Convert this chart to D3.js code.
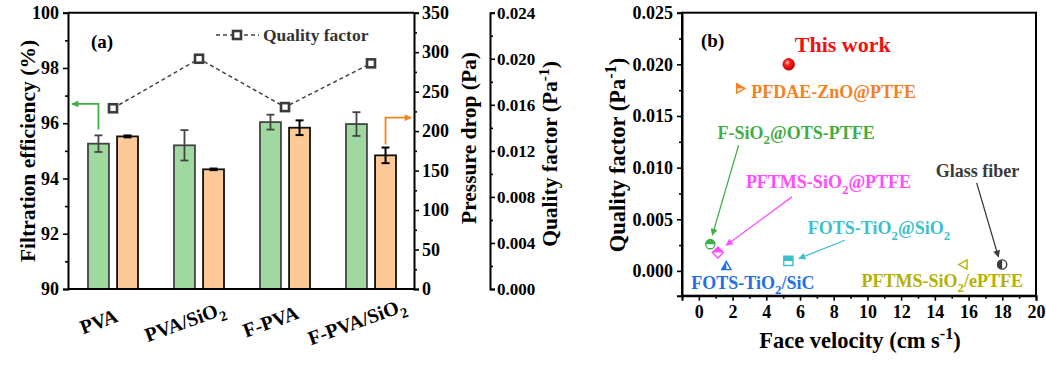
<!DOCTYPE html>
<html><head><meta charset="utf-8">
<script src="https://cdn.jsdelivr.net/npm/d3@7"></script>
<style>
body{margin:0;background:#fff}
svg{display:block}
text{font-family:"Liberation Serif","Times New Roman",serif;font-weight:bold}
</style></head>
<body><svg id="c" width="1046" height="366"></svg>
<script>
// ---------- Panel (a) data ----------
const categories = ["PVA", "PVA/SiO_{2}", "F-PVA", "F-PVA/SiO_{2}"];
const efficiency = [95.26, 95.20, 96.04, 95.97];
const efficiencyErr = [0.30, 0.55, 0.27, 0.43];
const pressureDrop = [193.3, 151.6, 204.3, 169.3];
const pressureErr = [1.2, 1.0, 9.3, 9.9];
const qualityFactor = [0.0157, 0.0200, 0.0158, 0.0196];
const effTicks = [90, 92, 94, 96, 98, 100];
const effMinor = [91, 93, 95, 97, 99];
const dpTicks = [0, 50, 100, 150, 200, 250, 300, 350];
const dpMinor = [25, 75, 125, 175, 225, 275, 325];
const qfTicks = [0, 0.004, 0.008, 0.012, 0.016, 0.020, 0.024];
const qfMinor = [0.002, 0.006, 0.010, 0.014, 0.018, 0.022];

// ---------- Panel (b) data ----------
const refLabels = ["This work", "PFDAE-ZnO@PTFE", "F-SiO_{2}@OTS-PTFE", "PFTMS-SiO_{2}@PTFE",
  "FOTS-TiO_{2}@SiO_{2}", "FOTS-TiO_{2}/SiC", "PFTMS-SiO_{2}/ePTFE", "Glass fiber"];
const faceVelocity = [5.33, 2.46, 0.68, 1.13, 5.31, 1.63, 15.69, 17.99];
const refQF = [0.0200, 0.01767, 0.00259, 0.00178, 0.00097, 0.00048, 0.00062, 0.00062];
const refColors = ["#f01010", "#f5801e", "#3fae45", "#ff4cff", "#3ebfd0", "#1f6fe6", "#b5b000", "#3a3a3a"];
const refShapes = ["sphere", "triR", "circle", "diamond", "square", "triU", "triL", "circle"];
const refHalf = ["none", "top", "top", "top", "top", "left", "none", "left"];
const labelX = [5.69, 3.11, 1.11, 2.79, 6.46, -0.45, 9.65, 14.05];
const labelY = [0.02187, 0.01735, 0.01334, 0.00857, 0.00411, -0.00116, -0.00097, 0.00969];
const labelSize = [22, 18, 18, 18, 18, 18, 18, 18];
const arrowIdx = [2, 3, 4, 7];
const arrowX0 = [2.36, 5.53, 8.66, 16.48];
const arrowY0 = [0.01218, 0.00717, 0.00297, 0.00853];
const arrowX1 = [0.80, 1.63, 5.94, 17.77];
const arrowY1 = [0.00346, 0.00249, 0.00120, 0.00136];
const velTicks = [0, 2, 4, 6, 8, 10, 12, 14, 16, 18, 20];
const velMinor = [-1, 1, 3, 5, 7, 9, 11, 13, 15, 17, 19];
const refQfTicks = [0, 0.005, 0.010, 0.015, 0.020, 0.025];
const refQfMinor = [0.0025, 0.0075, 0.0125, 0.0175, 0.0225];

const svg = d3.select("#c");
const FONT = '"Liberation Serif","Times New Roman",serif';

function rich(sel, str, fs) {
  const parts = str.split(/(_\{[^}]*\}|\^\{[^}]*\})/).filter(s => s.length);
  let shift = 0;
  parts.forEach(p => {
    if (p.startsWith("_{")) {
      sel.append("tspan").attr("dy", fs * 0.3 - shift).attr("font-size", fs * 0.72).text(p.slice(2, -1));
      shift = fs * 0.3;
    } else if (p.startsWith("^{")) {
      sel.append("tspan").attr("dy", -fs * 0.38 - shift).attr("font-size", fs * 0.72).text(p.slice(2, -1));
      shift = -fs * 0.38;
    } else {
      sel.append("tspan").attr("dy", -shift).attr("font-size", fs).text(p);
      shift = 0;
    }
  });
  return sel;
}

function styleAxis(g, fs) {
  g.select(".domain").attr("stroke", "#000").attr("stroke-width", 2);
  g.selectAll(".tick line").attr("stroke", "#000").attr("stroke-width", 1.6);
  g.selectAll(".tick text").attr("font-family", FONT).attr("font-weight", "bold").attr("font-size", fs).attr("fill", "#000");
}

// ================= Panel (a) =================
const aL = 68, aR = 414, aT = 12.7, aB = 289;
const xA = d3.scalePoint().domain(categories).range([70, 414]).padding(0.5);
const sub = d3.scaleBand().domain(["eff", "dp"]).range([-25, 25]).paddingInner(0.28);
const yEff = d3.scaleLinear().domain([90, 100]).range([aB, aT]);
const yDp = d3.scaleLinear().domain([0, 350]).range([aB, aT]);
const yQf = d3.scaleLinear().domain([0, 0.024]).range([aB, aT]);

const pa = svg.append("g");

categories.forEach((c, i) => {
  const cx = xA(c);
  pa.append("rect").attr("x", cx + sub("eff")).attr("width", sub.bandwidth())
    .attr("y", yEff(efficiency[i])).attr("height", yEff(90) - yEff(efficiency[i]))
    .attr("fill", "#a0d99f").attr("stroke", "#444").attr("stroke-width", 1.8);
  pa.append("rect").attr("x", cx + sub("dp")).attr("width", sub.bandwidth())
    .attr("y", yDp(pressureDrop[i])).attr("height", yDp(0) - yDp(pressureDrop[i]))
    .attr("fill", "#fec996").attr("stroke", "#111").attr("stroke-width", 1.8);
  const ex = cx + sub("eff") + sub.bandwidth() / 2;
  const e0 = yEff(efficiency[i] - efficiencyErr[i]), e1 = yEff(efficiency[i] + efficiencyErr[i]);
  const eg = pa.append("g").attr("stroke", "#444").attr("stroke-width", 1.8);
  eg.append("line").attr("x1", ex).attr("x2", ex).attr("y1", e0).attr("y2", e1);
  eg.append("line").attr("x1", ex - 4).attr("x2", ex + 4).attr("y1", e0).attr("y2", e0);
  eg.append("line").attr("x1", ex - 4).attr("x2", ex + 4).attr("y1", e1).attr("y2", e1);
  const px = cx + sub("dp") + sub.bandwidth() / 2;
  const p0 = yDp(pressureDrop[i] - pressureErr[i]), p1 = yDp(pressureDrop[i] + pressureErr[i]);
  const pg = pa.append("g").attr("stroke", "#000").attr("stroke-width", 2);
  pg.append("line").attr("x1", px).attr("x2", px).attr("y1", p0).attr("y2", p1);
  pg.append("line").attr("x1", px - 4).attr("x2", px + 4).attr("y1", p0).attr("y2", p0);
  pg.append("line").attr("x1", px - 4).attr("x2", px + 4).attr("y1", p1).attr("y2", p1);
});

const qfLine = d3.line().x((d, i) => xA(categories[i])).y(d => yQf(d));
pa.append("path").datum(qualityFactor).attr("d", qfLine).attr("fill", "none")
  .attr("stroke", "#444").attr("stroke-width", 1.5).attr("stroke-dasharray", "4,3");
pa.selectAll(".qfm").data(qualityFactor).enter().append("rect")
  .attr("x", (d, i) => xA(categories[i]) - 4).attr("y", d => yQf(d) - 4)
  .attr("width", 8).attr("height", 8).attr("fill", "#fff").attr("stroke", "#3a3a3a").attr("stroke-width", 2.6);

pa.append("line").attr("x1", aL).attr("x2", aR).attr("y1", aT).attr("y2", aT).attr("stroke", "#000").attr("stroke-width", 2);

const gL = pa.append("g").attr("transform", `translate(${aL},0)`)
  .call(d3.axisLeft(yEff).tickValues(effTicks).tickSize(5).tickPadding(4).tickFormat(d3.format("d")));
styleAxis(gL, 18);
const gLm = pa.append("g").attr("transform", `translate(${aL},0)`)
  .call(d3.axisLeft(yEff).tickValues(effMinor).tickSize(3).tickFormat(""));
styleAxis(gLm, 18); gLm.select(".domain").remove();

const gR = pa.append("g").attr("transform", `translate(${aR},0)`)
  .call(d3.axisRight(yDp).tickValues(dpTicks).tickSize(5).tickPadding(3).tickFormat(d3.format("d")));
styleAxis(gR, 18);
const gRm = pa.append("g").attr("transform", `translate(${aR},0)`)
  .call(d3.axisRight(yDp).tickValues(dpMinor).tickSize(3).tickFormat(""));
styleAxis(gRm, 18); gRm.select(".domain").remove();

const gQ = pa.append("g").attr("transform", `translate(490,0)`)
  .call(d3.axisRight(yQf).tickValues(qfTicks).tickSize(5).tickPadding(2).tickFormat(d3.format(".3f")));
styleAxis(gQ, 17);
const gQm = pa.append("g").attr("transform", `translate(490,0)`)
  .call(d3.axisRight(yQf).tickValues(qfMinor).tickSize(3).tickFormat(""));
styleAxis(gQm, 17); gQm.select(".domain").remove();

const gB = pa.append("g").attr("transform", `translate(0,${aB})`)
  .call(d3.axisBottom(xA).tickSize(0).tickFormat(""));
gB.select(".domain").attr("d", `M${aL},0H${aR}`).attr("stroke", "#000").attr("stroke-width", 2);

// category labels, rotated about 20 degrees (CSS transform on wrapper group)
categories.forEach((c, i) => {
  const tx = xA(c) - 12, ty = 328;
  const g = pa.append("g").style("transform", `translate(${tx}px,${ty}px) rotate(-20deg)`);
  const t = g.append("text").attr("x", 0).attr("y", 0).attr("text-anchor", "middle").attr("font-size", 20);
  rich(t, c, 20);
});

pa.append("text").attr("transform", "translate(35,151) rotate(-90)").attr("text-anchor", "middle")
  .attr("font-size", 21.5).text("Filtration efficiency (%)");
pa.append("text").attr("transform", "translate(476,138) rotate(-90)").attr("text-anchor", "middle")
  .attr("font-size", 21.5).text("Pressure drop (Pa)");
const qt = pa.append("text").attr("transform", "translate(557,154) rotate(-90)").attr("text-anchor", "middle");
rich(qt, "Quality factor (Pa^{-1})", 21.5);

pa.append("text").attr("x", 91).attr("y", 48).attr("font-size", 19).text("(a)");

pa.append("line").attr("x1", 216).attr("x2", 259).attr("y1", 35).attr("y2", 35)
  .attr("stroke", "#444").attr("stroke-width", 1.5).attr("stroke-dasharray", "4,3");
pa.append("rect").attr("x", 233).attr("y", 31).attr("width", 8).attr("height", 8)
  .attr("fill", "#fff").attr("stroke", "#3a3a3a").attr("stroke-width", 2.6);
pa.append("text").attr("x", 263).attr("y", 41).attr("font-size", 17.5).attr("fill", "#333").text("Quality factor");

const defs = svg.append("defs");
function arrowMarker(id, color) {
  defs.append("marker").attr("id", id).attr("viewBox", "0 0 10 10").attr("refX", 9).attr("refY", 5)
    .attr("markerWidth", 9).attr("markerHeight", 7).attr("markerUnits", "userSpaceOnUse").attr("orient", "auto")
    .append("path").attr("d", "M0,0L10,5L0,10z").attr("fill", color);
}
arrowMarker("agreen", "#3cb043");
arrowMarker("aorange", "#f7821b");
const gx0 = xA(categories[0]) + sub("eff") + sub.bandwidth() / 2;
pa.append("path").attr("d", `M${gx0},${yEff(efficiency[0] + efficiencyErr[0]) - 6}V${yEff(96.7)}H${aL + 4}`)
  .attr("fill", "none").attr("stroke", "#3cb043").attr("stroke-width", 1.8).attr("marker-end", "url(#agreen)");
const ox0 = xA(categories[3]) + sub("dp") + sub.bandwidth() / 2;
pa.append("path").attr("d", `M${ox0},${yDp(pressureDrop[3] + pressureErr[3]) - 3}V${yDp(217)}H${aR - 3}`)
  .attr("fill", "none").attr("stroke", "#f7821b").attr("stroke-width", 1.8).attr("marker-end", "url(#aorange)");

// ================= Panel (b) =================
const bL = 682, bR = 1036, bT = 12.7, bB = 295.7;
const xV = d3.scaleLinear().domain([-1, 20]).range([bL, bR]);
const yV = d3.scaleLinear().domain([-0.0024, 0.025]).range([bB, bT]);
const pb = svg.append("g");

pb.append("rect").attr("x", bL).attr("y", bT).attr("width", bR - bL).attr("height", bB - bT)
  .attr("fill", "none").attr("stroke", "#000").attr("stroke-width", 2);

const gbx = pb.append("g").attr("transform", `translate(0,${bB})`)
  .call(d3.axisBottom(xV).tickValues(velTicks).tickSize(5).tickPadding(5).tickFormat(d3.format("d")));
styleAxis(gbx, 18);
const gbxm = pb.append("g").attr("transform", `translate(0,${bB})`)
  .call(d3.axisBottom(xV).tickValues(velMinor).tickSize(3).tickFormat(""));
styleAxis(gbxm, 18); gbxm.select(".domain").remove();
const gby = pb.append("g").attr("transform", `translate(${bL},0)`)
  .call(d3.axisLeft(yV).tickValues(refQfTicks).tickSize(5).tickPadding(4).tickFormat(d3.format(".3f")));
styleAxis(gby, 18);
const gbym = pb.append("g").attr("transform", `translate(${bL},0)`)
  .call(d3.axisLeft(yV).tickValues(refQfMinor).tickSize(3).tickFormat(""));
styleAxis(gbym, 18); gbym.select(".domain").remove();

const bxt = pb.append("text").attr("x", 860).attr("y", 348).attr("text-anchor", "middle");
rich(bxt, "Face velocity (cm s^{-1})", 22.5);
const byt = pb.append("text").attr("transform", "translate(625,155) rotate(-90)").attr("text-anchor", "middle");
rich(byt, "Quality factor (Pa^{-1})", 22.5);
pb.append("text").attr("x", 701).attr("y", 47).attr("font-size", 19).text("(b)");

arrowIdx.forEach((k, j) => {
  arrowMarker("ab" + j, refColors[k]);
  pb.append("line").attr("x1", xV(arrowX0[j])).attr("y1", yV(arrowY0[j]))
    .attr("x2", xV(arrowX1[j])).attr("y2", yV(arrowY1[j]))
    .attr("stroke", refColors[k]).attr("stroke-width", 1.3).attr("marker-end", `url(#ab${j})`);
});

const rg = defs.append("radialGradient").attr("id", "sphere").attr("cx", "38%").attr("cy", "35%").attr("r", "65%");
rg.append("stop").attr("offset", "0%").attr("stop-color", "#ffd0d0");
rg.append("stop").attr("offset", "35%").attr("stop-color", "#ff2020");
rg.append("stop").attr("offset", "100%").attr("stop-color", "#c00000");

function shapePath(s) {
  const r = 4.6;
  switch (s) {
    case "circle": return d3.symbol(d3.symbolCircle, Math.PI * r * r)();
    case "square": return `M${-r},${-r}H${r}V${r}H${-r}Z`;
    case "diamond": return `M0,${-r * 1.2}L${r * 1.2},0L0,${r * 1.2}L${-r * 1.2},0Z`;
    case "triU": return `M0,${-r}L${r},${r * 0.8}L${-r},${r * 0.8}Z`;
    case "triR": return `M${r},0L${-r * 0.8},${-r}L${-r * 0.8},${r}Z`;
    case "triL": return `M${-r},0L${r * 0.8},${-r}L${r * 0.8},${r}Z`;
  }
}
refLabels.forEach((lab, i) => {
  const g = pb.append("g").attr("transform", `translate(${xV(faceVelocity[i])},${yV(refQF[i])})`);
  const col = refColors[i];
  if (refShapes[i] === "sphere") {
    g.append("circle").attr("r", 5.8).attr("fill", "url(#sphere)").attr("stroke", "#d00000").attr("stroke-width", 0.8);
  } else {
    const d = shapePath(refShapes[i]);
    g.append("path").attr("d", d).attr("fill", "#fff");
    if (refHalf[i] !== "none") {
      const cid = "clip" + i;
      const cp = defs.append("clipPath").attr("id", cid);
      if (refHalf[i] === "top") cp.append("rect").attr("x", -10).attr("y", -10).attr("width", 20).attr("height", 10);
      else cp.append("rect").attr("x", -10).attr("y", -10).attr("width", 10).attr("height", 20);
      g.append("path").attr("d", d).attr("fill", col).attr("clip-path", `url(#${cid})`);
    }
    g.append("path").attr("d", d).attr("fill", "none").attr("stroke", col).attr("stroke-width", 1.4);
  }
  const t = pb.append("text").attr("x", xV(labelX[i])).attr("y", yV(labelY[i]) + labelSize[i] * 0.33)
    .attr("fill", col).attr("font-size", labelSize[i]);
  rich(t, lab, labelSize[i]);
});
</script>
</body></html>
